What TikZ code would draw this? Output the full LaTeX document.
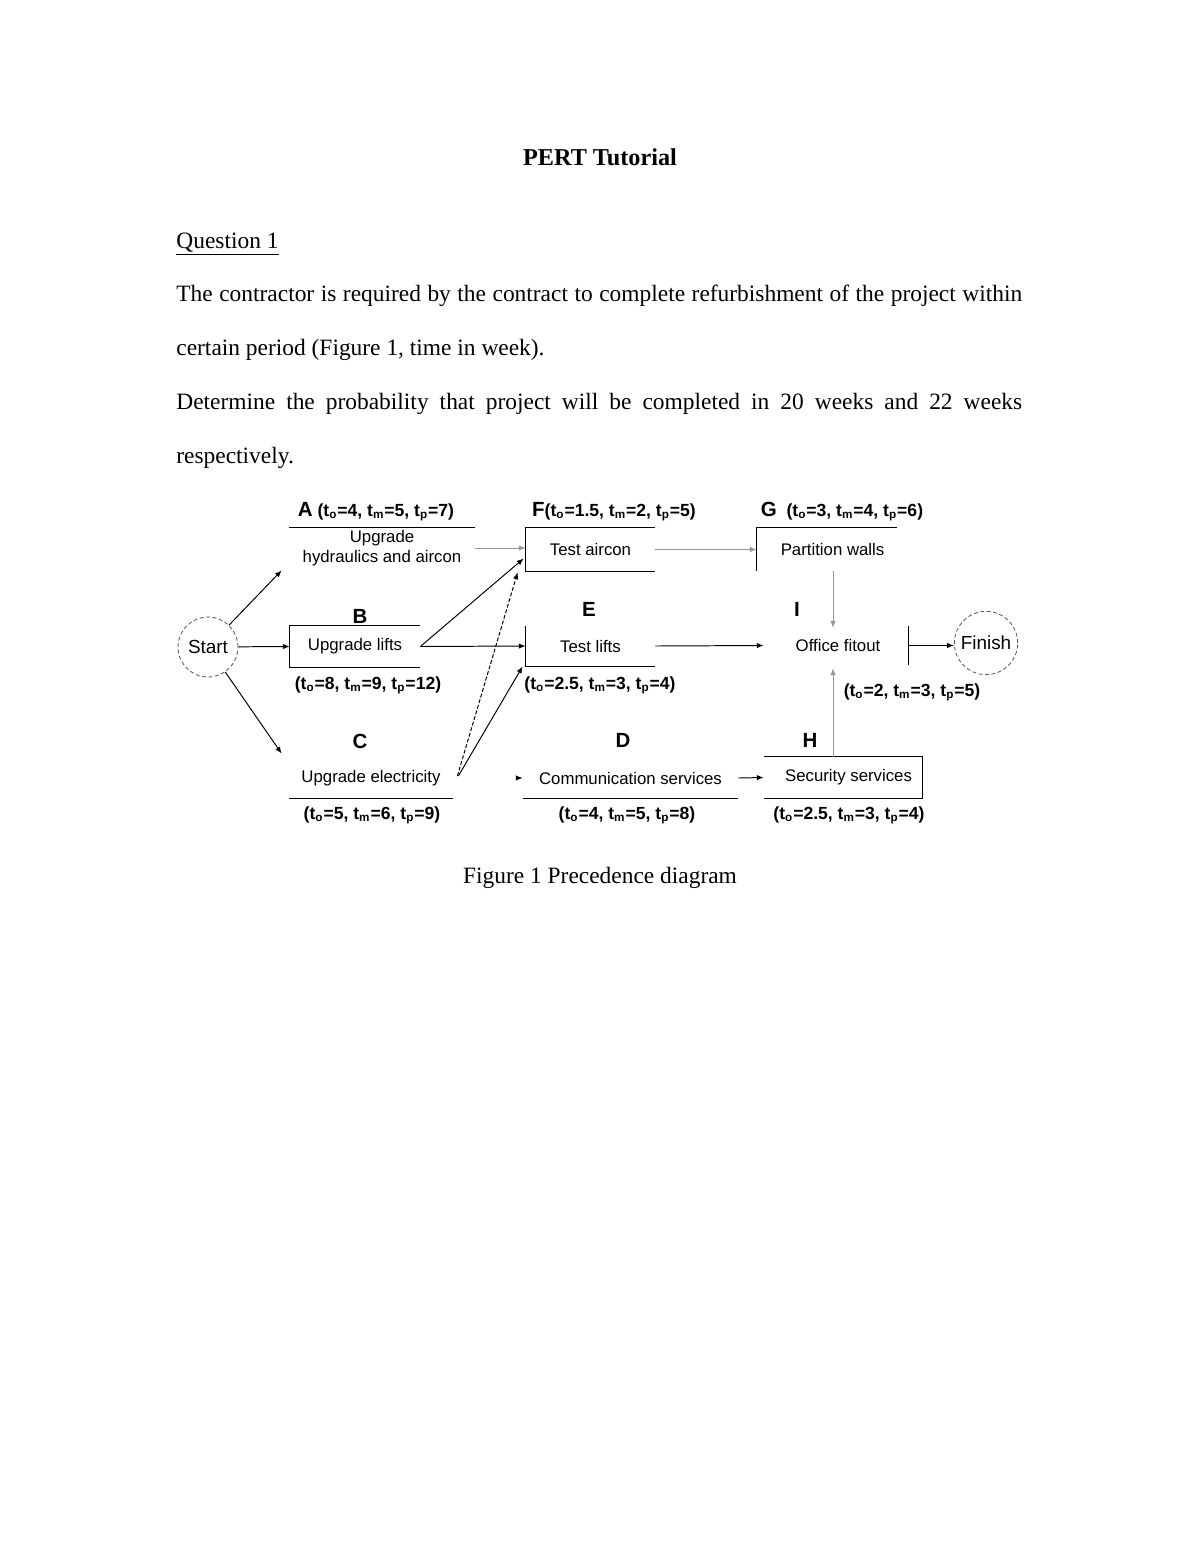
\documentclass[tikz,border=0pt]{standalone}
\usepackage{fontspec}
\setmainfont{Liberation Serif}
\newfontfamily\arialfont{Liberation Sans}
\usetikzlibrary{arrows.meta, positioning, calc}
\definecolor{linegrey}{RGB}{150,150,150}
\definecolor{circlegrey}{RGB}{80,80,80}
\tikzstyle{bodytext} = [anchor=base west, inner sep=0pt, font=\fontsize{12}{14}\selectfont]
\tikzstyle{task} = [rectangle, inner sep=0pt, align=center, font=\arialfont\fontsize{8.6}{10.4}\selectfont]
\tikzstyle{tasklabel} = [inner sep=0pt, font=\arialfont\bfseries\fontsize{10.5}{12}\selectfont]
\tikzstyle{times} = [inner sep=0pt, font=\arialfont\bfseries\fontsize{9}{11}\selectfont]
\tikzstyle{event} = [circle, draw=circlegrey, dash pattern=on 2pt off 1.3pt, line width=0.4pt, inner sep=0pt, font=\arialfont\fontsize{9.7}{11}\selectfont]
\tikzstyle{edge} = [line width=0.6pt]
\tikzstyle{arrow} = [-{Latex[length=3.5pt, width=2.8pt]}, line width=0.5pt]
\tikzstyle{greyarrow} = [arrow, draw=linegrey, fill=linegrey]
\newcommand{\tasklet}[1]{{\fontsize{10.5}{12}\selectfont #1}}

\begin{document}
\begin{tikzpicture}[x=0.018cm, y=-0.018cm]
    \path[fill=white, use as bounding box] (0,0) rectangle (1200,1553);

    % Page text
    \node[bodytext, anchor=base, font=\bfseries\fontsize{12.4}{14}\selectfont] (title) at (600,165) {PERT Tutorial};
    \node[bodytext] (question) at (176,248) {\underline{Question 1}};
    \node[bodytext] (lineone) at (176,301) {\makebox[15.228cm][s]{The contractor is required by the contract to complete refurbishment of the project within}};
    \node[bodytext] (linetwo) at (176,355) {certain period (Figure 1, time in week).};
    \node[bodytext] (linethree) at (176,409) {\makebox[15.228cm][s]{Determine the probability that project will be completed in 20 weeks and 22 weeks}};
    \node[bodytext] (linefour) at (176,463) {respectively.};
    \node[bodytext, anchor=base] (caption) at (600,883) {Figure 1 Precedence diagram};

    % Events
    \node[event, minimum size=1.08cm] (start) at (208,647) {Start};
    \node[event, minimum size=1.14cm] (finish) at (986,643) {Finish};

    % Tasks
    \node[task, minimum width=3.348cm, minimum height=0.72cm] (abox) at (382,548) {Upgrade\\hydraulics and aircon};
    \node[task, minimum width=2.34cm, minimum height=0.738cm] (bbox) at (355,646.5) {Upgrade lifts};
    \node[task, minimum width=2.952cm, minimum height=0.72cm] (cbox) at (371,778) {Upgrade electricity};
    \node[task, minimum width=3.87cm, minimum height=0.72cm] (dbox) at (630.5,778) {Communication services};
    \node[task, minimum width=2.322cm, minimum height=0.72cm] (ebox) at (590.5,646) {Test lifts};
    \node[task, minimum width=2.322cm, minimum height=0.774cm] (fbox) at (590.5,549.5) {Test aircon};
    \node[task, minimum width=2.52cm, minimum height=0.774cm] (gbox) at (827,549.5) {\hspace*{0.2cm}Partition walls};
    \node[task, minimum width=2.844cm, minimum height=0.738cm] (hbox) at (843,777.5) {\hspace*{0.2cm}Security services};
    \node[task, minimum width=2.52cm, minimum height=0.70cm] (ibox) at (838,645.5) {Office fitout};

    % Box edges
    \draw[edge] (abox.north west) -- (abox.north east);
    \draw[edge] (bbox.north east) -- (bbox.north west) -- (bbox.south west) -- (bbox.south east);
    \draw[edge] (cbox.south west) -- (cbox.south east);
    \draw[edge] (dbox.south west) -- (dbox.south east);
    \draw[edge] (ebox.north west) -- (ebox.south west) -- (ebox.south east);
    \draw[edge] (fbox.north east) -- (fbox.north west) -- (fbox.south west) -- (fbox.south east);
    \draw[edge] (gbox.south west) -- (gbox.north west) -- (gbox.north east);
    \draw[edge] (hbox.north west) -- (hbox.north east) -- (hbox.south east) -- (hbox.south west);
    \draw[edge] (ibox.north east) -- (ibox.south east);

    % Task letters and times
    \node[times] (alab) at (376,512) {\tasklet{A} (t\textsubscript{o}=4, t\textsubscript{m}=5, t\textsubscript{p}=7)};
    \node[tasklabel] (blab) at (360,616) {B};
    \node[tasklabel] (clab) at (360,741) {C};
    \node[tasklabel] (dlab) at (623,740) {D};
    \node[tasklabel] (elab) at (589,609) {E};
    \node[times] (flab) at (614,512) {\tasklet{F}(t\textsubscript{o}=1.5, t\textsubscript{m}=2, t\textsubscript{p}=5)};
    \node[times] (glab) at (842,512) {\tasklet{G}\ \ (t\textsubscript{o}=3, t\textsubscript{m}=4, t\textsubscript{p}=6)};
    \node[tasklabel] (hlab) at (810,740) {H};
    \node[tasklabel] (ilab) at (797,609) {I};

    \node[times] (btime) at (368,685) {(t\textsubscript{o}=8, t\textsubscript{m}=9, t\textsubscript{p}=12)};
    \node[times] (ctime) at (372,815) {(t\textsubscript{o}=5, t\textsubscript{m}=6, t\textsubscript{p}=9)};
    \node[times] (dtime) at (627,815) {(t\textsubscript{o}=4, t\textsubscript{m}=5, t\textsubscript{p}=8)};
    \node[times] (etime) at (600,685) {(t\textsubscript{o}=2.5, t\textsubscript{m}=3, t\textsubscript{p}=4)};
    \node[times] (htime) at (849,815) {(t\textsubscript{o}=2.5, t\textsubscript{m}=3, t\textsubscript{p}=4)};
    \node[times] (itime) at (912,692) {(t\textsubscript{o}=2, t\textsubscript{m}=3, t\textsubscript{p}=5)};

    % Arrows
    \draw[arrow] (start) -- ($(abox.south west)+(-7,2)$);
    \draw[arrow] (start) -- (bbox.west);
    \draw[arrow] (start) -- ($(cbox.north west)+(-7,-4)$);
    \draw[greyarrow] (abox.east) -- (abox.east -| fbox.west);
    \draw[arrow] (bbox.east) -- ($(fbox.west)+(-2,9)$);
    \draw[arrow] (bbox.east) -- (ebox.west);
    \draw[arrow, dash pattern=on 2pt off 1pt] ($(cbox.east)+(4,-2)$) -- ($(fbox.south west)+(-8,1)$);
    \draw[arrow] ($(cbox.east)+(5,-2)$) -- ($(ebox.south west)+(-3,0)$);
    \coordinate (dtip) at ($(dbox.west)+(-5,0)$);
    \draw[arrow] (dtip) -- (dbox.west);
    \draw[arrow] (dbox.east) -- (hbox.west);
    \draw[greyarrow] (fbox.east) -- (gbox.west);
    \draw[greyarrow] ($(gbox.south)+(6,0)$) -- ($(ibox.north)+(-5,2)$);
    \draw[arrow] (ebox.east) -- ($(ibox.west)+(-4,0)$);
    \draw[greyarrow] ($(hbox.north)+(-10,0)$) -- ($(ibox.south)+(-5,3)$);
    \draw[arrow] (ibox.east) -- (ibox.east -| finish.west);
\end{tikzpicture}
\end{document}
